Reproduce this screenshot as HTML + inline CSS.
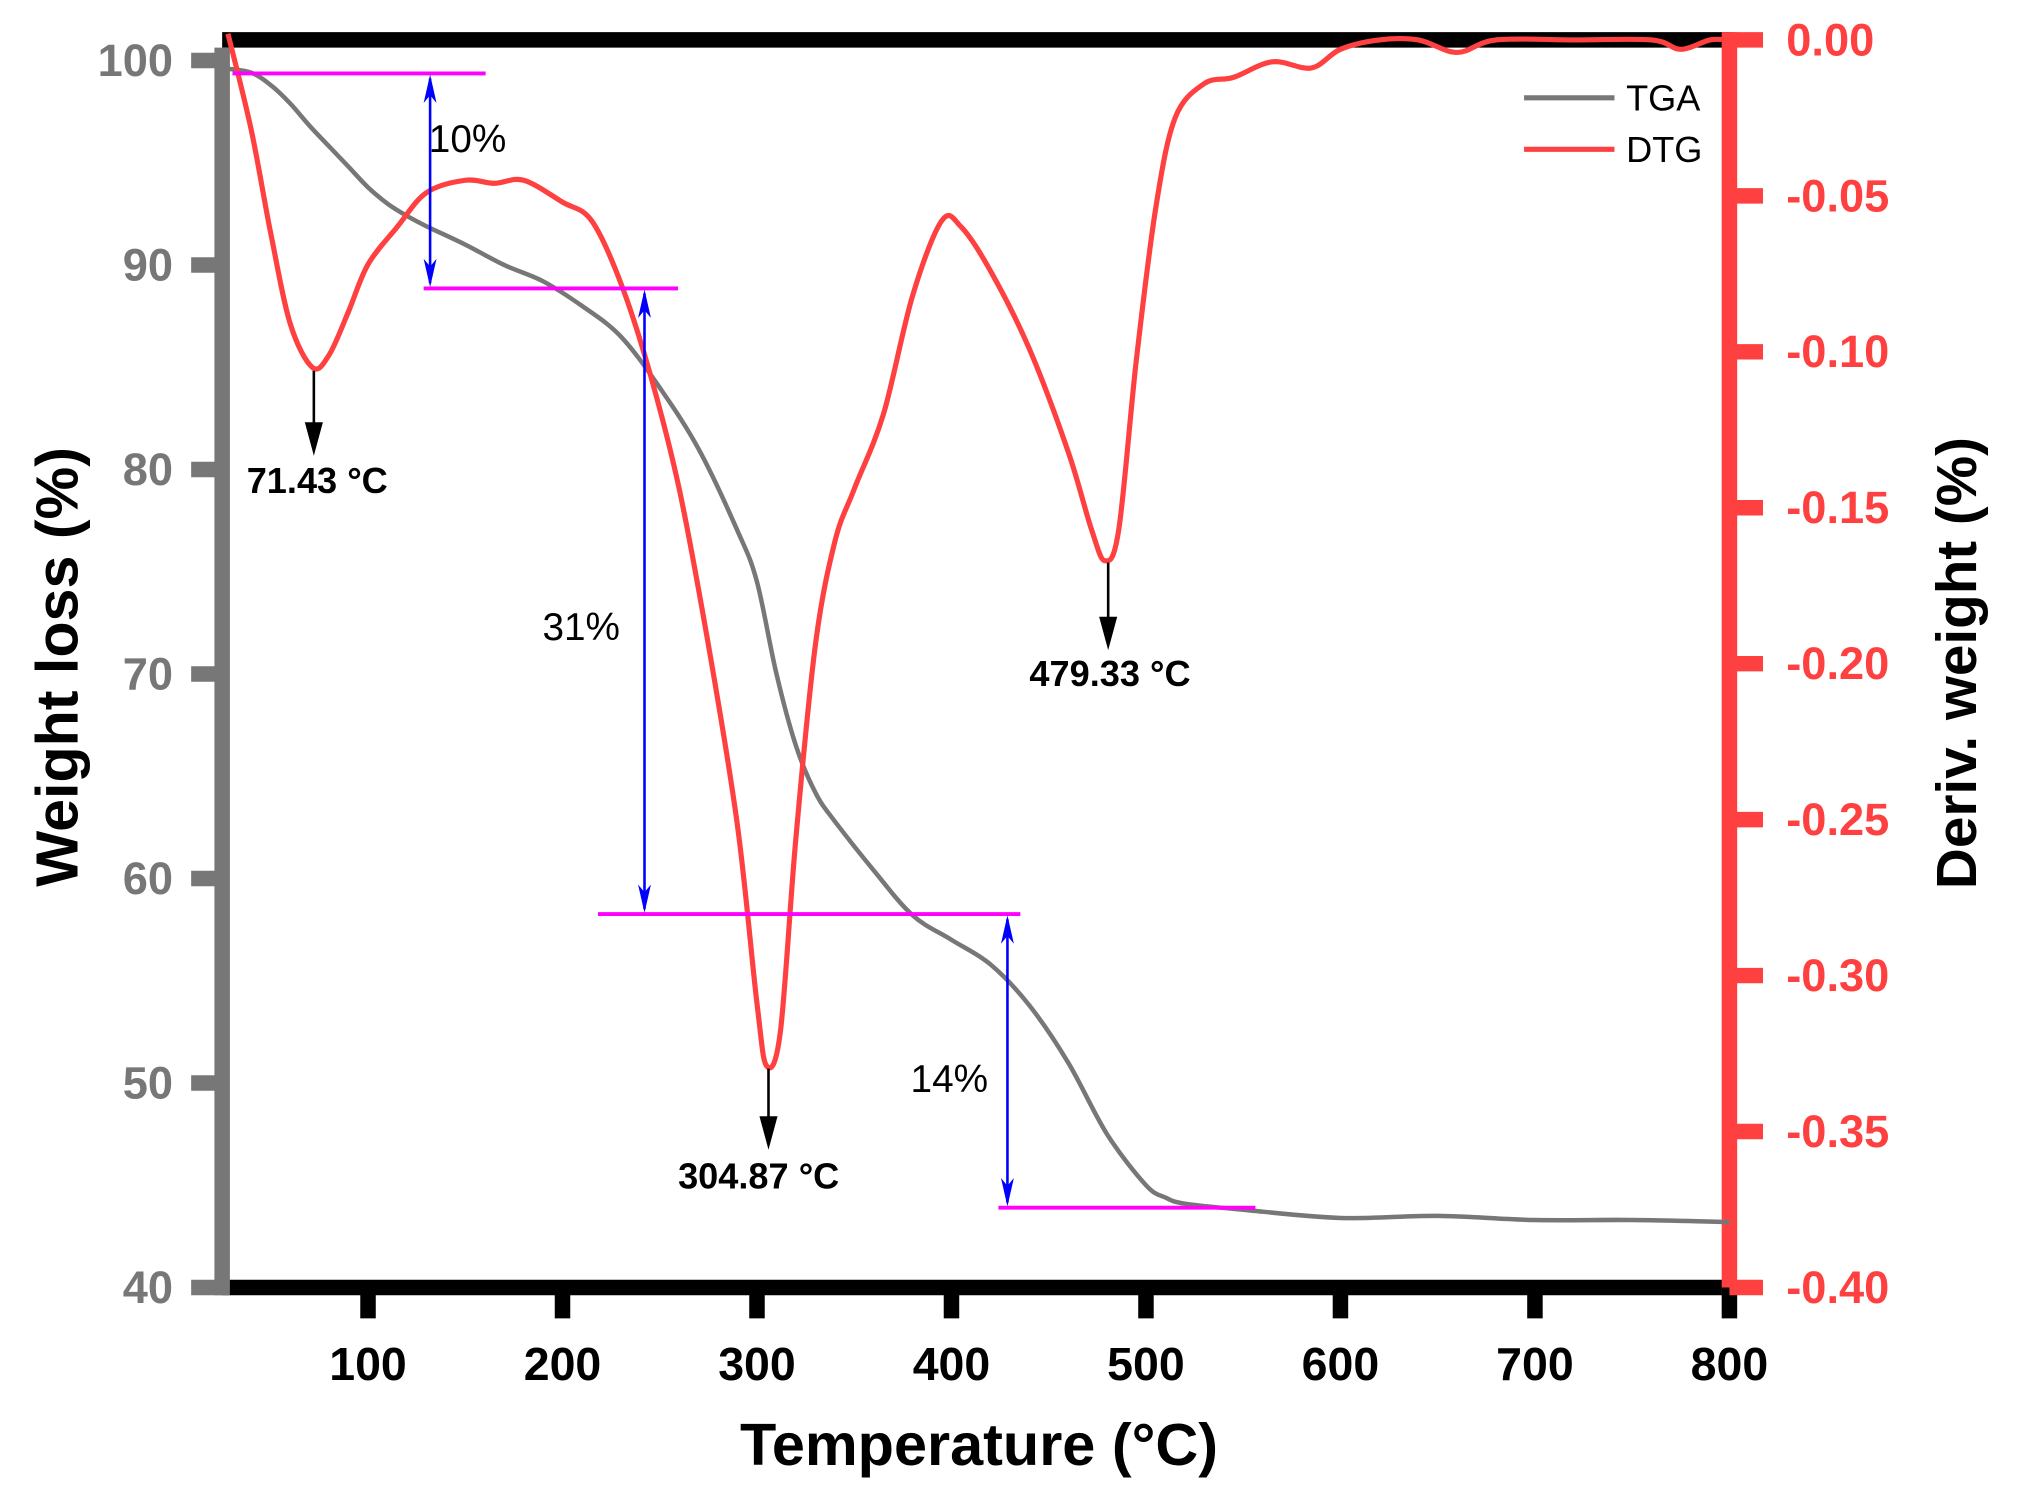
<!DOCTYPE html>
<html><head><meta charset="utf-8"><style>
html,body{margin:0;padding:0;background:#fff;}
svg{display:block;}
text{font-family:"Liberation Sans",Arial,sans-serif;}
</style></head><body>
<svg id="chart" width="2019" height="1490" viewBox="0 0 1563.2 1157.3" preserveAspectRatio="none" xmlns="http://www.w3.org/2000/svg">
<g id="axes"></g>
<g id="series"></g>
<g id="annot"></g>
</svg>
<script>
const xTicks=[100,200,300,400,500,600,700,800];
const yTicks=[40,50,60,70,80,90,100];
const y2Ticks=[0,-0.05,-0.10,-0.15,-0.20,-0.25,-0.30,-0.35,-0.40];
const y2Labels=["0.00","-0.05","-0.10","-0.15","-0.20","-0.25","-0.30","-0.35","-0.40"];
const tgaT=[28,40,50,60,70,80,90,100,110,120,130,150,170,190,210,230,250,270,290,300,310,320,330,340,360,380,400,420,440,460,480,500,510,520,550,600,650,700,750,800];
const tgaW=[99.6,99.4,98.8,97.9,96.8,95.8,94.8,93.8,93.0,92.4,91.9,91.0,90.0,89.2,88.0,86.5,84.0,81.0,77.0,74.5,70.0,66.5,64.2,62.8,60.4,58.2,57.0,55.8,53.8,51.0,47.5,45.0,44.4,44.1,43.8,43.4,43.5,43.3,43.3,43.2];
const dtgT=[28,40,50,60,71.4,80,90,100,115,130,150,165,180,200,215,230,245,260,275,290,300,305,312,320,330,340,350,365,380,395,405,420,440,460,472,479,486,495,505,515,530,545,565,585,600,620,640,660,680,720,760,775,790,800];
const dtgV=[0.002,-0.029,-0.062,-0.091,-0.105,-0.101,-0.087,-0.072,-0.060,-0.049,-0.045,-0.046,-0.045,-0.052,-0.058,-0.078,-0.107,-0.144,-0.194,-0.252,-0.309,-0.329,-0.318,-0.256,-0.194,-0.161,-0.144,-0.120,-0.082,-0.058,-0.060,-0.074,-0.099,-0.132,-0.157,-0.167,-0.157,-0.103,-0.054,-0.025,-0.014,-0.012,-0.007,-0.009,-0.003,0.0,0.0,-0.004,0.0,0.0,0.0,-0.003,0.0,0.0];

const L=172,R=1339,T=31,B=1000;
const X=t=>L+(t-25)*(R-L)/775;
const Y=w=>1000-(w-40)*(1000-47)/60;
const Y2=v=>T+(-v)*(B-T)/0.4;
const NS="http://www.w3.org/2000/svg";
function mk(tag,attrs,parent,txt){const e=document.createElementNS(NS,tag);for(const k in attrs)e.setAttribute(k,attrs[k]);if(txt!==undefined)e.textContent=txt;parent.appendChild(e);return e;}
function smooth(p){let d='M'+p[0][0].toFixed(1)+','+p[0][1].toFixed(1);for(let i=0;i<p.length-1;i++){const p0=p[i-1]||p[i],p1=p[i],p2=p[i+1],p3=p[i+2]||p2;const c1=[p1[0]+(p2[0]-p0[0])/6,p1[1]+(p2[1]-p0[1])/6],c2=[p2[0]-(p3[0]-p1[0])/6,p2[1]-(p3[1]-p1[1])/6];d+=' C'+c1[0].toFixed(1)+','+c1[1].toFixed(1)+' '+c2[0].toFixed(1)+','+c2[1].toFixed(1)+' '+p2[0].toFixed(1)+','+p2[1].toFixed(1);}return d;}
const ax=document.getElementById('axes'),se=document.getElementById('series'),an=document.getElementById('annot');

let e;
e=mk('line',{x1:L,y1:T,x2:R,y2:T,stroke:'#000','stroke-width':12},ax);


e=mk('line',{x1:L,y1:B,x2:R,y2:B,stroke:'#000','stroke-width':12},ax);


e=mk('line',{x1:L,y1:T+6,x2:L,y2:B+6,stroke:'#777','stroke-width':12},ax);


e=mk('line',{x1:R,y1:T-6,x2:R,y2:B+6,stroke:'#ff4040','stroke-width':12},ax);



xTicks.forEach(t=>{
 e=mk('line',{x1:X(t),y1:B,x2:X(t),y2:B+24,stroke:'#000','stroke-width':12},ax);
 
 
 e=mk('text',{x:X(t),y:B+72,'text-anchor':'middle','font-size':36,'font-weight':'bold',fill:'#000'},ax,String(t));
 
 
});
yTicks.forEach(w=>{
 e=mk('line',{x1:L-24,y1:Y(w),x2:L,y2:Y(w),stroke:'#777','stroke-width':12},ax);
 
 
 e=mk('text',{x:L-38,y:Y(w)+12,'text-anchor':'end','font-size':35,'font-weight':'bold',fill:'#777'},ax,String(w));
 
 
});
y2Ticks.forEach((v,i)=>{
 e=mk('line',{x1:R,y1:Y2(v),x2:R+26,y2:Y2(v),stroke:'#ff4040','stroke-width':12},ax);
 
 
 e=mk('text',{x:R+44,y:Y2(v)+12,'font-size':35,'font-weight':'bold',fill:'#ff4040'},ax,y2Labels[i]);
 
 
});
e=mk('text',{x:758,y:1138,'text-anchor':'middle','font-size':46,'font-weight':'bold',fill:'#000'},ax,'Temperature (°C)');


e=mk('text',{x:0,y:0,'text-anchor':'middle','font-size':46,'font-weight':'bold',fill:'#000',transform:'translate(60,518) rotate(-90)'},ax,'Weight loss (%)');


e=mk('text',{x:0,y:0,'text-anchor':'middle','font-size':44,'font-weight':'bold',fill:'#000',transform:'translate(1530,515) rotate(-90)'},ax,'Deriv. weight (%)');



e=mk('path',{d:smooth(tgaT.map((t,i)=>[X(t),Y(tgaW[i])])),fill:'none',stroke:'#777','stroke-width':3.5,'stroke-linejoin':'round'},se);


e=mk('path',{d:smooth(dtgT.map((t,i)=>[X(t),Y2(dtgV[i])])),fill:'none',stroke:'#ff4040','stroke-width':4,'stroke-linejoin':'round'},se);



e=mk('line',{x1:1180,y1:76,x2:1250,y2:76,stroke:'#777','stroke-width':4},an);


e=mk('text',{x:1259,y:86,'font-size':28,fill:'#000'},an,'TGA');


e=mk('line',{x1:1180,y1:116,x2:1250,y2:116,stroke:'#ff4040','stroke-width':4},an);


e=mk('text',{x:1259,y:126,'font-size':28,fill:'#000'},an,'DTG');



[[180,376,57],[328,525,224],[463,790,710],[773,972,938]].forEach(a=>{
 e=mk('line',{x1:a[0],y1:a[2],x2:a[1],y2:a[2],stroke:'#ff00ff','stroke-width':3},an);
 
 
});
[[333,57,224],[499,224,710],[780,710,938]].forEach(a=>{
 const g=mk('g',{},an);
 
 
 mk('line',{x1:a[0],y1:a[1]+4,x2:a[0],y2:a[2]-4,stroke:'#0000ff','stroke-width':2},g);
 const x=a[0],t=a[1]+1,b=a[2]-1;
 mk('path',{d:`M${x},${t} L${x-5},${t+22} L${x},${t+16} L${x+5},${t+22} Z`,fill:'#0000ff'},g);
 mk('path',{d:`M${x},${b} L${x-5},${b-22} L${x},${b-16} L${x+5},${b-22} Z`,fill:'#0000ff'},g);
});
[[332,118,'10%'],[420,497,'31%'],[705,848,'14%']].forEach(a=>{
 e=mk('text',{x:a[0],y:a[1],'font-size':30,fill:'#000'},an,a[2]);
 
 
});
[[243,288,354,191,383,'71.43 °C'],[595,830,893,525,923,'304.87 °C'],[858,437,505,797,533,'479.33 °C']].forEach(a=>{
 const g=mk('g',{},an);
 
 
 mk('line',{x1:a[0],y1:a[1],x2:a[0],y2:a[2]-24,stroke:'#000','stroke-width':2},g);
 mk('path',{d:`M${a[0]-7},${a[2]-26} L${a[0]+7},${a[2]-26} L${a[0]},${a[2]} Z`,fill:'#000'},g);
 e=mk('text',{x:a[3],y:a[4],'font-size':28,'font-weight':'bold',fill:'#000'},an,a[5]);
 
 
});
</script>
</body></html>
